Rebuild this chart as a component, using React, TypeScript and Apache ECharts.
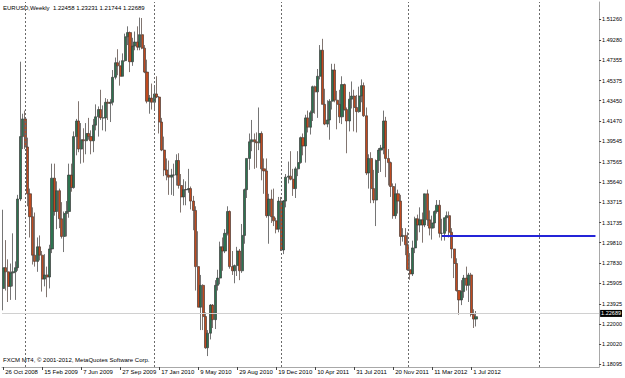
import React, { useEffect, useRef } from "react";
import * as echarts from "echarts";

const symbolTitle = "EURUSD,Weekly";
const lastQuote = ["1.22458", "1.23231", "1.21744", "1.22689"];
const copyright = "FXCM MT4, \u00a9 2001-2012, MetaQuotes Software Corp.";

const dateLabels = [
  "26 Oct 2008", "15 Feb 2009", "7 Jun 2009", "27 Sep 2009", "17 Jan 2010",
  "9 May 2010", "29 Aug 2010", "19 Dec 2010", "10 Apr 2011", "31 Jul 2011",
  "20 Nov 2011", "11 Mar 2012", "1 Jul 2012",
];
const labelStep = 16;
const totalSlots = 245;

const priceTicks = [
  1.5126, 1.4928, 1.47355, 1.45375, 1.4345, 1.4147, 1.39545, 1.37565, 1.3564,
  1.33715, 1.31735, 1.2981, 1.2783, 1.25905, 1.23925, 1.22, 1.2002, 1.18095,
];

// weekly bars: [open, high, low, close]
const bars: number[][] = [
  [1.2540, 1.3297, 1.2330, 1.2740], [1.2740, 1.3005, 1.2520, 1.2700], [1.2700, 1.2820, 1.2410, 1.2560],
  [1.2560, 1.2780, 1.2430, 1.2690], [1.2690, 1.3070, 1.2560, 1.2700], [1.2700, 1.2800, 1.2430, 1.2740],
  [1.2740, 1.3440, 1.2710, 1.3400], [1.3400, 1.4720, 1.3380, 1.4000], [1.4000, 1.4220, 1.3880, 1.4170],
  [1.4170, 1.4250, 1.3880, 1.3900], [1.3900, 1.3990, 1.3330, 1.3450], [1.3450, 1.3500, 1.3030, 1.3230],
  [1.3230, 1.3320, 1.2770, 1.2860], [1.2860, 1.3270, 1.2750, 1.2800], [1.2800, 1.3030, 1.2700, 1.2940],
  [1.2940, 1.3050, 1.2810, 1.2860], [1.2860, 1.2900, 1.2510, 1.2630], [1.2630, 1.2870, 1.2560, 1.2670],
  [1.2670, 1.2750, 1.2456, 1.2650], [1.2650, 1.2960, 1.2540, 1.2920], [1.2920, 1.3740, 1.2880, 1.3600],
  [1.3600, 1.3740, 1.3240, 1.3280], [1.3280, 1.3570, 1.3110, 1.3480], [1.3480, 1.3500, 1.3120, 1.3210],
  [1.3210, 1.3370, 1.3020, 1.3040], [1.3040, 1.3280, 1.2890, 1.3260], [1.3260, 1.3380, 1.3040, 1.3280],
  [1.3280, 1.3740, 1.3220, 1.3630], [1.3630, 1.3740, 1.3470, 1.3510], [1.3510, 1.4050, 1.3500, 1.4000],
  [1.4000, 1.4170, 1.3820, 1.4150], [1.4150, 1.4340, 1.3850, 1.3880], [1.3880, 1.4130, 1.3740, 1.3970],
  [1.3970, 1.4080, 1.3750, 1.3960], [1.3960, 1.4130, 1.3830, 1.4030], [1.4030, 1.4180, 1.3970, 1.4000],
  [1.4000, 1.4060, 1.3830, 1.3960], [1.3960, 1.4170, 1.3850, 1.4110], [1.4110, 1.4310, 1.4060, 1.4190],
  [1.4190, 1.4290, 1.4000, 1.4260], [1.4260, 1.4450, 1.4160, 1.4180], [1.4180, 1.4300, 1.4060, 1.4180],
  [1.4180, 1.4370, 1.4050, 1.4330], [1.4330, 1.4360, 1.4160, 1.4320], [1.4320, 1.4360, 1.4140, 1.4330],
  [1.4330, 1.4640, 1.4300, 1.4570], [1.4570, 1.4760, 1.4550, 1.4710], [1.4710, 1.4840, 1.4590, 1.4680],
  [1.4680, 1.4730, 1.4490, 1.4580], [1.4580, 1.4800, 1.4580, 1.4730], [1.4730, 1.4990, 1.4720, 1.4960],
  [1.4960, 1.5060, 1.4880, 1.5000], [1.5000, 1.5010, 1.4620, 1.4720], [1.4720, 1.4950, 1.4680, 1.4870],
  [1.4870, 1.5010, 1.4830, 1.4910], [1.4910, 1.5060, 1.4830, 1.4860], [1.4860, 1.5144, 1.4830, 1.4980],
  [1.4980, 1.5140, 1.4840, 1.4850], [1.4850, 1.4880, 1.4610, 1.4620], [1.4620, 1.4740, 1.4320, 1.4340],
  [1.4340, 1.4400, 1.4220, 1.4370], [1.4370, 1.4510, 1.4260, 1.4330], [1.4330, 1.4480, 1.4260, 1.4410],
  [1.4410, 1.4580, 1.4370, 1.4380], [1.4380, 1.4390, 1.4030, 1.4140], [1.4140, 1.4180, 1.3860, 1.3870],
  [1.3870, 1.4000, 1.3620, 1.3680], [1.3680, 1.3790, 1.3580, 1.3630], [1.3630, 1.3770, 1.3440, 1.3610],
  [1.3610, 1.3690, 1.3440, 1.3630], [1.3630, 1.3740, 1.3430, 1.3630], [1.3630, 1.3830, 1.3530, 1.3770],
  [1.3770, 1.3840, 1.3500, 1.3530], [1.3530, 1.3640, 1.3270, 1.3420], [1.3420, 1.3590, 1.3340, 1.3490],
  [1.3490, 1.3570, 1.3340, 1.3490], [1.3490, 1.3690, 1.3460, 1.3500], [1.3500, 1.3520, 1.3300, 1.3380],
  [1.3380, 1.3430, 1.3100, 1.3290], [1.3290, 1.3330, 1.2520, 1.2750], [1.2750, 1.3090, 1.2360, 1.2360],
  [1.2360, 1.2670, 1.2140, 1.2570], [1.2570, 1.2580, 1.2140, 1.2270], [1.2270, 1.2310, 1.1960, 1.1970],
  [1.1970, 1.2140, 1.1890, 1.2110], [1.2110, 1.2390, 1.2050, 1.2380], [1.2380, 1.2390, 1.2160, 1.2240],
  [1.2240, 1.2620, 1.2150, 1.2570], [1.2570, 1.2720, 1.2520, 1.2640], [1.2640, 1.2990, 1.2580, 1.2940],
  [1.2940, 1.3030, 1.2710, 1.2900], [1.2900, 1.3110, 1.2880, 1.3070], [1.3070, 1.3330, 1.3050, 1.3280],
  [1.3280, 1.3290, 1.2730, 1.2750], [1.2750, 1.2900, 1.2670, 1.2710], [1.2710, 1.2770, 1.2590, 1.2760],
  [1.2760, 1.2940, 1.2660, 1.2900], [1.2900, 1.2920, 1.2620, 1.2710], [1.2710, 1.3160, 1.2690, 1.3050],
  [1.3050, 1.3500, 1.2970, 1.3490], [1.3490, 1.3790, 1.3410, 1.3790], [1.3790, 1.4030, 1.3680, 1.3950],
  [1.3950, 1.4160, 1.3860, 1.3970], [1.3970, 1.4030, 1.3690, 1.3950], [1.3950, 1.4040, 1.3700, 1.3940],
  [1.3940, 1.4280, 1.3870, 1.4030], [1.4030, 1.4050, 1.3580, 1.3690], [1.3690, 1.3790, 1.3450, 1.3670],
  [1.3670, 1.3790, 1.3220, 1.3240], [1.3240, 1.3450, 1.2970, 1.3400], [1.3400, 1.3490, 1.3170, 1.3230],
  [1.3230, 1.3500, 1.3140, 1.3190], [1.3190, 1.3220, 1.3070, 1.3110], [1.3110, 1.3420, 1.3080, 1.3380],
  [1.3380, 1.3420, 1.2900, 1.2910], [1.2910, 1.3390, 1.2870, 1.3380], [1.3380, 1.3640, 1.3320, 1.3610],
  [1.3610, 1.3760, 1.3550, 1.3620], [1.3620, 1.3860, 1.3580, 1.3590], [1.3590, 1.3690, 1.3430, 1.3500],
  [1.3500, 1.3710, 1.3410, 1.3690], [1.3690, 1.3860, 1.3620, 1.3750], [1.3750, 1.4000, 1.3740, 1.3990],
  [1.3990, 1.4030, 1.3820, 1.3910], [1.3910, 1.4210, 1.3750, 1.4180], [1.4180, 1.4250, 1.4040, 1.4090],
  [1.4090, 1.4250, 1.4020, 1.4230], [1.4230, 1.4490, 1.4150, 1.4480], [1.4480, 1.4490, 1.4220, 1.4430],
  [1.4430, 1.4650, 1.4180, 1.4580], [1.4580, 1.4880, 1.4550, 1.4830], [1.4830, 1.4940, 1.4310, 1.4310],
  [1.4310, 1.4460, 1.4110, 1.4120], [1.4120, 1.4350, 1.4090, 1.4160], [1.4160, 1.4360, 1.3970, 1.4340],
  [1.4340, 1.4700, 1.4260, 1.4640], [1.4640, 1.4700, 1.4330, 1.4350], [1.4350, 1.4440, 1.4070, 1.4310],
  [1.4310, 1.4450, 1.4130, 1.4190], [1.4190, 1.4580, 1.4120, 1.4500], [1.4500, 1.4510, 1.4250, 1.4260],
  [1.4260, 1.4280, 1.3840, 1.4150], [1.4150, 1.4430, 1.4050, 1.4360], [1.4360, 1.4530, 1.4270, 1.4390],
  [1.4390, 1.4450, 1.4050, 1.4280], [1.4280, 1.4400, 1.4040, 1.4240], [1.4240, 1.4480, 1.4230, 1.4390],
  [1.4390, 1.4550, 1.4330, 1.4490], [1.4490, 1.4520, 1.4190, 1.4200], [1.4200, 1.4280, 1.3630, 1.3650],
  [1.3650, 1.3830, 1.3500, 1.3790], [1.3790, 1.3850, 1.3360, 1.3500], [1.3500, 1.3680, 1.3360, 1.3390],
  [1.3390, 1.3780, 1.3140, 1.3770], [1.3770, 1.3890, 1.3650, 1.3870], [1.3870, 1.3920, 1.3660, 1.3890],
  [1.3890, 1.4250, 1.3830, 1.4150], [1.4150, 1.4190, 1.3610, 1.3790], [1.3790, 1.3880, 1.3530, 1.3750],
  [1.3750, 1.3760, 1.3420, 1.3520], [1.3520, 1.3550, 1.3210, 1.3240], [1.3240, 1.3550, 1.3210, 1.3450],
  [1.3450, 1.3490, 1.3260, 1.3380], [1.3380, 1.3440, 1.2950, 1.3040], [1.3040, 1.3120, 1.2990, 1.3050],
  [1.3050, 1.3120, 1.2860, 1.2960], [1.2960, 1.3080, 1.2710, 1.2720], [1.2720, 1.2880, 1.2624, 1.2680],
  [1.2680, 1.3000, 1.2660, 1.2930], [1.2930, 1.3230, 1.2880, 1.3210], [1.3210, 1.3250, 1.3000, 1.3150],
  [1.3150, 1.3320, 1.3080, 1.3200], [1.3200, 1.3270, 1.2980, 1.3150], [1.3150, 1.3450, 1.3130, 1.3450],
  [1.3450, 1.3490, 1.3140, 1.3200], [1.3200, 1.3290, 1.3050, 1.3120], [1.3120, 1.3240, 1.3010, 1.3170],
  [1.3170, 1.3290, 1.3120, 1.3280], [1.3280, 1.3390, 1.3260, 1.3340], [1.3340, 1.3390, 1.3030, 1.3070],
  [1.3070, 1.3210, 1.3000, 1.3070], [1.3070, 1.3220, 1.3000, 1.3220], [1.3220, 1.3280, 1.3090, 1.3240],
  [1.3240, 1.3280, 1.3030, 1.3080], [1.3080, 1.3120, 1.2830, 1.2920], [1.2920, 1.2920, 1.2640, 1.2780],
  [1.2780, 1.2830, 1.2510, 1.2520], [1.2520, 1.2520, 1.2288, 1.2430], [1.2430, 1.2620, 1.2380, 1.2510],
  [1.2510, 1.2670, 1.2450, 1.2640], [1.2640, 1.2750, 1.2520, 1.2570], [1.2570, 1.2690, 1.2410, 1.2670],
  [1.2670, 1.2690, 1.2270, 1.2290], [1.2290, 1.2340, 1.2160, 1.2246], [1.22458, 1.23231, 1.21744, 1.22689],
];

const gridLineBars = [9, 62, 114, 166, 220];
const levelLine = { from: 180, to: 243, price: 1.3043 };
const currentPrice = 1.22689;
const priceMin = 1.1785;
const priceMax = 1.5294;

const FONT = "Liberation Sans";

export default function App() {
  const ref = useRef<HTMLDivElement>(null);
  useEffect(() => {
    if (!ref.current) return;
    const chart = echarts.init(ref.current, undefined, { renderer: "svg" });
    const categories = Array.from({ length: totalSlots }, (_, i) => "w" + i);
    const candleData = bars.map((b) => [b[0], b[3], b[2], b[1]]);
    const showLabel = (i: number) => i % labelStep === 0 && i / labelStep < dateLabels.length;
    chart.setOption({
      animation: false,
      backgroundColor: "#ffffff",
      grid: { left: 2, right: 23, top: 2, bottom: 11, containLabel: false },
      xAxis: {
        type: "category",
        data: categories,
        boundaryGap: true,
        axisLine: { show: true, lineStyle: { color: "#a8a8a8", width: 1 } },
        axisTick: { show: true, alignWithLabel: true, interval: (i: number) => showLabel(i), length: 3, lineStyle: { color: "#444" } },
        axisLabel: {
          show: true,
          interval: (i: number) => showLabel(i),
          formatter: (_v: string, idx: number) => dateLabels[idx / labelStep] ?? "",
          align: "left",
          fontSize: 6,
          fontFamily: FONT,
          color: "#000",
          margin: 2,
          padding: [0, 0, 0, 2],
        },
        splitLine: { show: false },
      },
      yAxis: {
        type: "value",
        position: "right",
        min: priceMin,
        max: priceMax,
        scale: true,
        axisLine: { show: true, lineStyle: { color: "#a8a8a8", width: 1 } },
        axisTick: { show: true, customValues: priceTicks, length: 2, lineStyle: { color: "#444" } },
        axisLabel: {
          show: true,
          customValues: priceTicks,
          formatter: (v: number) => v.toFixed(5),
          fontSize: 5.5,
          fontFamily: FONT,
          color: "#000",
          margin: 3,
        },
        splitLine: { show: false },
      },
      series: [
        {
          type: "candlestick",
          data: candleData,
          barWidth: 2.6,
          itemStyle: {
            color: "#2d7350",
            color0: "#c04a1e",
            borderColor: "#3a3a3a",
            borderColor0: "#4a3a32",
            borderWidth: 0.7,
          },
          markLine: {
            silent: true,
            symbol: ["none", "none"],
            animation: false,
            data: [
              ...gridLineBars.map((i) => ({
                xAxis: categories[i],
                lineStyle: { color: "#6a6a6a", type: [2, 2], width: 1 },
                label: { show: false },
              })),
              {
                yAxis: currentPrice,
                lineStyle: { color: "#d0d0d0", type: "solid", width: 1 },
                label: {
                  show: true,
                  position: "end",
                  formatter: currentPrice.toFixed(5),
                  backgroundColor: "#000",
                  color: "#fff",
                  fontSize: 5.5,
                  fontFamily: FONT,
                  padding: [1, 1, 0, 1],
                  distance: 1,
                },
              },
              [
                { coord: [categories[levelLine.from], levelLine.price], lineStyle: { color: "#2424d8", width: 2, type: "solid" }, label: { show: false } },
                { coord: [categories[levelLine.to], levelLine.price] },
              ],
            ],
          },
        },
      ],
      graphic: [
        {
          type: "text",
          left: 3,
          top: 5,
          style: {
            text: symbolTitle + "  " + lastQuote.join(" "),
            fontSize: 6,
            fontFamily: FONT,
            fill: "#000",
          },
        },
        {
          type: "text",
          left: 3,
          top: 357,
          style: { text: copyright, fontSize: 6, fontFamily: FONT, fill: "#000" },
        },
      ],
    });
    return () => chart.dispose();
  }, []);
  return <div ref={ref} style={{ width: 625, height: 378, position: "absolute", left: 0, top: 0 }} />;
}
